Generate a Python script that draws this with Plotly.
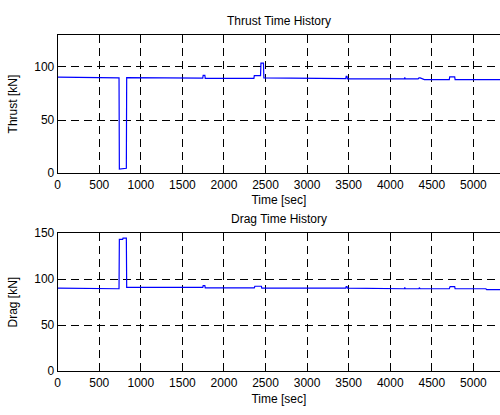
import plotly.graph_objects as go

# ---- data ----
thrust_time = [0, 100, 105, 738, 742, 780, 785, 826, 830, 1480, 1490, 1745, 1750, 1770, 1775,
               2360, 2365, 2440, 2445, 2475, 2480, 3045, 3055, 3465, 3470, 3480, 3485,
               4170, 4175, 4180, 4335, 4345, 4360, 4400, 4410, 4710, 4715, 4775, 4780, 5400]
thrust_val = [90.3, 90.3, 89.6, 89.6, 3.9, 3.9, 4.6, 4.6, 90.0, 90.0, 89.4, 89.4, 92.0, 92.0, 89.2,
              89.2, 91.8, 91.8, 103.5, 103.5, 89.6, 89.6, 88.9, 88.9, 91.0, 91.0, 88.8,
              88.8, 90.2, 88.8, 88.8, 89.6, 89.6, 88.0, 88.0, 88.0, 90.6, 90.6, 88.0, 88.0]

drag_time = [0, 305, 310, 738, 742, 782, 786, 826, 830, 1745, 1750, 1770, 1775,
             2365, 2372, 2450, 2455, 3465, 3470, 3480, 3485, 3565, 3575,
             4170, 4175, 4180, 4345, 4350, 4360, 4710, 4720, 4775, 4780, 5150, 5160, 5400]
drag_val = [90.3, 90.3, 89.6, 89.6, 143.2, 143.2, 144.6, 144.6, 91.0, 91.0, 93.0, 93.0, 90.6,
            90.6, 92.3, 92.3, 90.3, 90.3, 92.0, 92.0, 90.2, 90.2, 89.6,
            89.6, 91.0, 89.6, 89.6, 90.8, 89.6, 89.6, 92.0, 92.0, 89.6, 89.6, 88.6, 88.6]

x_ticks = [0, 500, 1000, 1500, 2000, 2500, 3000, 3500, 4000, 4500, 5000]
thrust_ticks = [0, 50, 100]
drag_ticks = [0, 50, 100, 150]

W, H = 500, 415
FONT = "Liberation Sans, Arial, sans-serif"
FS = 12

fig = go.Figure()
fig.add_trace(go.Scatter(x=thrust_time, y=thrust_val, mode="lines",
                         line=dict(color="#0000ff", width=1.2), xaxis="x", yaxis="y",
                         showlegend=False))
fig.add_trace(go.Scatter(x=drag_time, y=drag_val, mode="lines",
                         line=dict(color="#0000ff", width=1.2), xaxis="x2", yaxis="y2",
                         showlegend=False))

x_left = 55 / W

def xax(anchor):
    return dict(domain=[x_left, 1], range=[0, 5320], anchor=anchor,
                tickvals=x_ticks, ticks="inside", ticklen=4, tickcolor="black",
                showline=True, linecolor="black", linewidth=1, mirror="ticks",
                showgrid=True, gridcolor="#000000", gridwidth=1, griddash="8px,5px",
                zeroline=False, tickfont=dict(family=FONT, size=FS, color="black"),
                title=dict(text="Time [sec]", font=dict(family=FONT, size=FS, color="black"),
                           standoff=5))

def yax(anchor, dom, rng, ticks, title):
    return dict(domain=dom, range=rng, anchor=anchor, tickvals=ticks,
                ticks="inside", ticklen=4, tickcolor="black",
                showline=True, linecolor="black", linewidth=1, mirror=False,
                showgrid=True, gridcolor="#000000", gridwidth=1, griddash="8px,5px",
                zeroline=False, tickfont=dict(family=FONT, size=FS, color="black"),
                title=dict(text=title, font=dict(family=FONT, size=FS, color="black"),
                           standoff=14))

top_dom = [1 - 172 / H, 1 - 29 / H]
bot_dom = [1 - 377 / H, 1 - 234 / H]

fig.update_layout(
    width=W, height=H,
    margin=dict(l=0, r=0, t=0, b=0),
    paper_bgcolor="white", plot_bgcolor="white",
    xaxis=xax("y"),
    yaxis=yax("x", top_dom, [0, 130], thrust_ticks, "Thrust [kN]"),
    xaxis2=xax("y2"),
    yaxis2=yax("x2", bot_dom, [0, 150], drag_ticks, "Drag [kN]"),
    annotations=[
        dict(text="Thrust Time History", x=(x_left + 1) / 2, y=1 - 14 / H, xref="paper",
             yref="paper", xanchor="center", yanchor="middle", showarrow=False,
             font=dict(family=FONT, size=FS, color="black")),
        dict(text="Drag Time History", x=(x_left + 1) / 2, y=1 - 219 / H, xref="paper",
             yref="paper", xanchor="center", yanchor="middle", showarrow=False,
             font=dict(family=FONT, size=FS, color="black")),
    ],
)

fig.write_html("out.html")
